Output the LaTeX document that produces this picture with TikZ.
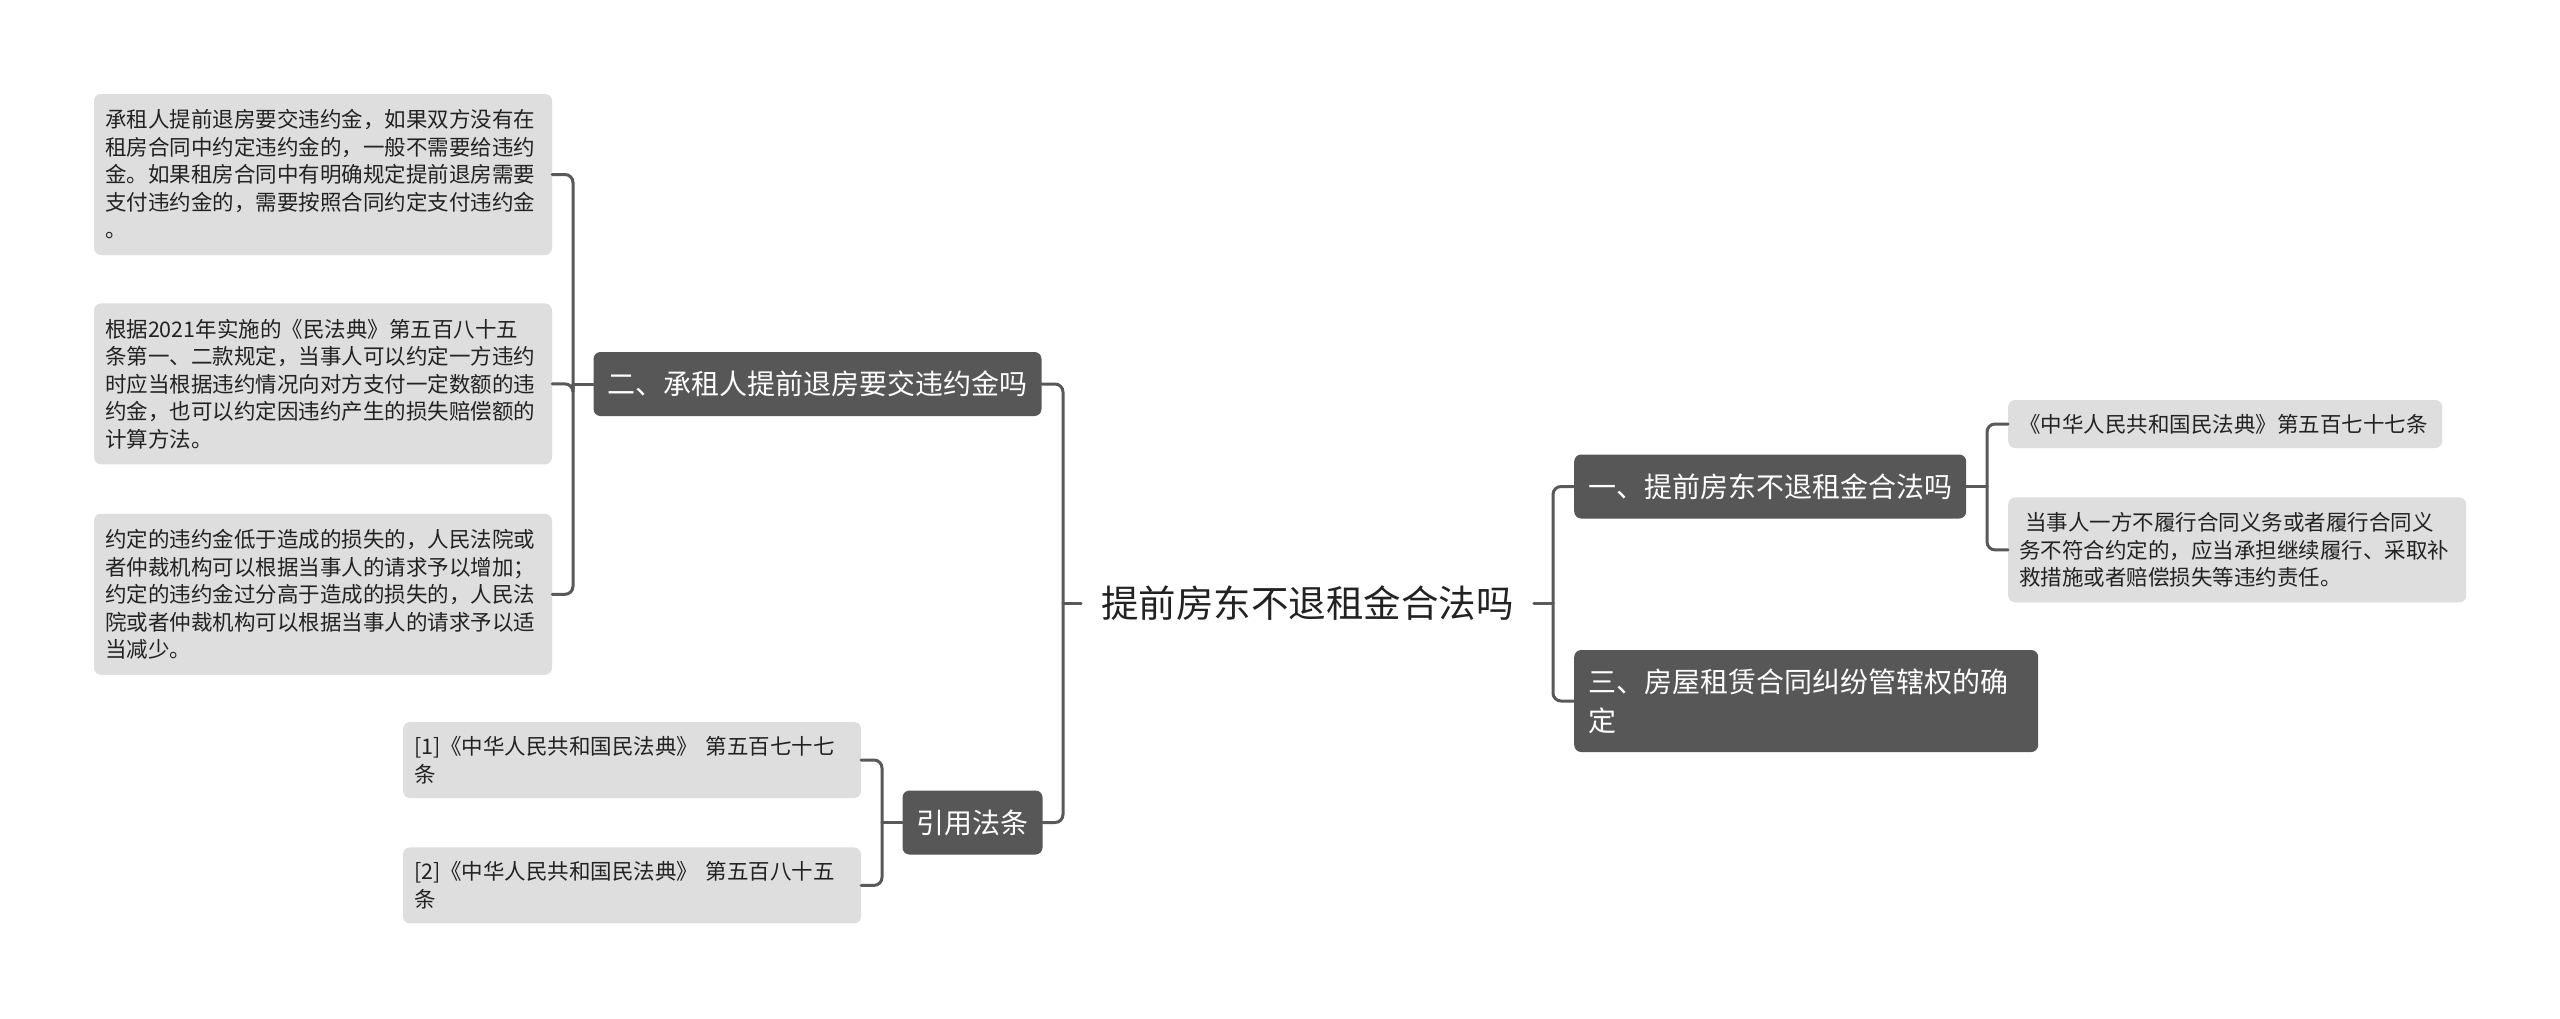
\documentclass[tikz,border=0pt]{standalone}
\usepackage{fontspec}
\setmainfont{Noto Sans CJK SC}
\usepackage{tikz}
\usetikzlibrary{positioning}
\definecolor{topicgray}{HTML}{575757}
\definecolor{leafgray}{HTML}{DEDEDE}
\definecolor{linkgray}{HTML}{595959}
\definecolor{ink}{HTML}{222222}
\tikzset{
    rootnode/.style={inner xsep=20pt,inner ysep=6pt,text=ink,
      font=\fontsize{37.5}{44}\selectfont},
    topic/.style={fill=topicgray,rounded corners=7pt,text=white,
      inner xsep=14pt,inner ysep=8pt,minimum height=64pt,align=left,
      font=\fontsize{28}{39}\selectfont},
    leaf/.style={fill=leafgray,rounded corners=7pt,text=ink,
      inner xsep=11pt,inner ysep=8pt,text width=436pt,align=left,
      font=\fontsize{21.5}{27.5}\selectfont},
    link/.style={draw=linkgray,line width=3pt,rounded corners=8pt,line cap=round}
}
\begin{document}
\begin{tikzpicture}[x=1pt,y=-1pt]
  \fill[white] (0,0) rectangle (2560,1018);
  \node[rootnode] (root) at (1307.5,603) {提前房东不退租金合法吗};
  \node[topic] (q2) at (817.5,384) {二、承租人提前退房要交违约金吗};
  \node[topic] (cite) at (972.5,822.5) {引用法条};
  \node[topic,anchor=west] (q1) at (1574,486.5) {一、提前房东不退租金合法吗};
  \node[topic,anchor=west,text width=436pt,minimum height=102pt] (q3) at (1574,701)
    {三、房屋租赁合同纠纷管辖权的确\\定};
  \node[leaf,minimum height=161pt] (pen1) at (323,174.5)
    {承租人提前退房要交违约金，如果双方没有在\\租房合同中约定违约金的，一般不需要给违约\\金。如果租房合同中有明确规定提前退房需要\\支付违约金的，需要按照合同约定支付违约金\\。};
  \node[leaf,minimum height=161pt,below=48pt of pen1] (pen2)
    {根据2021年实施的《民法典》第五百八十五\\条第一、二款规定，当事人可以约定一方违约\\时应当根据违约情况向对方支付一定数额的违\\约金，也可以约定因违约产生的损失赔偿额的\\计算方法。};
  \node[leaf,minimum height=161pt,below=49pt of pen2] (pen3)
    {约定的违约金低于造成的损失的，人民法院或\\者仲裁机构可以根据当事人的请求予以增加；\\约定的违约金过分高于造成的损失的，人民法\\院或者仲裁机构可以根据当事人的请求予以适\\当减少。};
  \node[leaf,minimum height=76pt] (law1) at (632,760)
    {[1]《中华人民共和国民法典》~第五百七十七\\条};
  \node[leaf,minimum height=76pt,below=49pt of law1] (law2)
    {[2]《中华人民共和国民法典》~第五百八十五\\条};
  \node[leaf,anchor=west,text width=412pt,minimum height=48pt] (art1) at (2008,424)
    {《中华人民共和国民法典》第五百七十七条};
  \node[leaf,minimum height=105pt,below=49pt of art1.south west,anchor=north west] (art2)
    {\hspace*{6pt}当事人一方不履行合同义务或者履行合同义\\务不符合约定的，应当承担继续履行、采取补\\救措施或者赔偿损失等违约责任。};
  \coordinate (jm) at (1063,603);
  \coordinate (jr) at (1553,603);
  \coordinate (jp) at (573,384);
  \coordinate (jc) at (882,822.5);
  \coordinate (ja) at (1987,486.5);
  \draw[link] (root.west) -- (jm);
  \draw[link] (jm) |- (q2.east);
  \draw[link] (jm) |- (cite.east);
  \draw[link] (root.east) -- (jr);
  \draw[link] (jr) |- (q1.west);
  \draw[link] (jr) |- (q3.west);
  \draw[link] (q2.west) -- (jp);
  \draw[link] (jp) |- (pen1.east);
  \draw[link] (jp) |- (pen2.east);
  \draw[link] (jp) |- (pen3.east);
  \draw[link] (cite.west) -- (jc);
  \draw[link] (jc) |- (law1.east);
  \draw[link] (jc) |- (law2.east);
  \draw[link] (q1.east) -- (ja);
  \draw[link] (ja) |- (art1.west);
  \draw[link] (ja) |- (art2.west);
\end{tikzpicture}
\end{document}
